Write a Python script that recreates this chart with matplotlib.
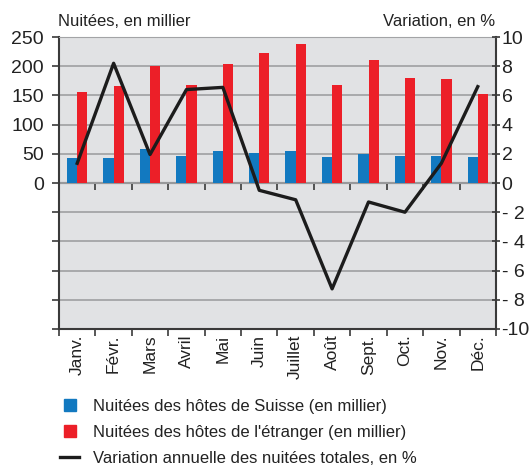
"""
Nuitées par mois: hôtes de Suisse / de l'étranger, et variation annuelle.
"""

import numpy as np
import matplotlib.pyplot as plt
from matplotlib.lines import Line2D

plt.rcParams['font.family'] = ['Liberation Sans', 'DejaVu Sans']

# data
months = ['Janv.', 'Févr.', 'Mars', 'Avril', 'Mai', 'Juin',
          'Juillet', 'Août', 'Sept.', 'Oct.', 'Nov.', 'Déc.']
suisse = [42, 42, 59, 47, 54, 52, 54, 45, 50, 47, 47, 45]
etranger = [155, 166, 201, 168, 203, 222, 238, 168, 210, 180, 178, 152]
variation = [1.35, 8.2, 1.95, 6.4, 6.55, -0.5, -1.15, -7.25, -1.3, -2.0, 1.35, 6.6]

left_ticks = list(range(-250, 251, 50))
right_ticks = list(range(-10, 11, 2))
right_labels = ['-10', '- 8', '- 6', '- 4', '- 2', '0', '2', '4', '6', '8', '10']

legend_labels = ['Nuitées des hôtes de Suisse (en millier)',
                 "Nuitées des hôtes de l'étranger (en millier)",
                 'Variation annuelle des nuitées totales, en %']

# colours
BLUE = '#1279c0'
RED = '#ec1f28'
BG = '#e1e2e4'
GRID = '#a3a4a6'
DARK = '#3a3a3a'
TXT = '#222222'

fig = plt.figure(figsize=(5.3, 4.65), dpi=100)
ax = fig.add_axes([0.1113, 0.2925, 0.8245, 0.6279])
ax.set_facecolor(BG)

x = np.arange(len(months))
w = 0.28
ax.bar(x - w / 2, suisse, w, color=BLUE, zorder=3)
ax.bar(x + w / 2, etranger, w, color=RED, zorder=3)

ax.set_xlim(-0.5, len(months) - 0.5)
ax.set_ylim(-250, 250)
ax.set_yticks(left_ticks)
ax.set_yticklabels([str(v) if v >= 0 else '' for v in left_ticks], fontsize=14)
ax.yaxis.grid(True, color=GRID, lw=1.3, zorder=0)
ax.set_axisbelow(True)

# x ticks at category boundaries, labels at centres
ax.set_xticks(np.arange(-0.5, len(months), 1.0))
ax.set_xticklabels([])
ax.set_xticks(x, minor=True)
ax.set_xticklabels(months, minor=True, rotation=90, fontsize=12.5)
ax.tick_params(axis='x', which='minor', length=0, pad=4, colors=TXT)
ax.tick_params(axis='x', which='major', length=5, color=DARK, width=1.2)
ax.tick_params(axis='y', length=5, color=DARK, width=1.2, pad=6, colors=TXT)

for side in ['left', 'bottom']:
    ax.spines[side].set_color(DARK)
    ax.spines[side].set_linewidth(1.5)
ax.spines['top'].set_color(GRID)
ax.spines['right'].set_color(DARK)
ax.spines['right'].set_linewidth(1.5)

# zero line with downward ticks
zero = ax.secondary_xaxis(0.5)
zero.set_xticks(np.arange(-0.5, len(months), 1.0))
zero.set_xticklabels([])
zero.tick_params(direction='in', length=5, color=DARK, width=1.2)
zero.spines['top'].set_color(DARK)
zero.spines['top'].set_linewidth(1.5)

# right axis: variation
ax2 = ax.twinx()
ax2.plot(x, variation, color='#1c1c1c', lw=2.4, zorder=5)
ax2.set_ylim(-10, 10)
ax2.set_yticks(right_ticks)
ax2.set_yticklabels(right_labels, fontsize=14)
ax2.tick_params(axis='y', direction='inout', length=6, color=DARK, width=1.2,
                pad=1, colors=TXT)
for sp in ax2.spines.values():
    sp.set_visible(False)

fig.text(0.109, 0.945, 'Nuitées, en millier', fontsize=12, color=TXT)
fig.text(0.935, 0.945, 'Variation, en %', fontsize=12, color=TXT, ha='right')

# legend
handles = [Line2D([], [], ls='', marker='s', markersize=8.6, color=BLUE),
           Line2D([], [], ls='', marker='s', markersize=8.6, color=RED),
           Line2D([], [], color='#1c1c1c', lw=2.4)]
fig.legend(handles, legend_labels, loc='lower left',
           bbox_to_anchor=(0.085, -0.035), frameon=False, fontsize=12,
           handlelength=1.15, handletextpad=0.82, labelspacing=0.66,
           labelcolor=TXT)

plt.savefig('out.png')
